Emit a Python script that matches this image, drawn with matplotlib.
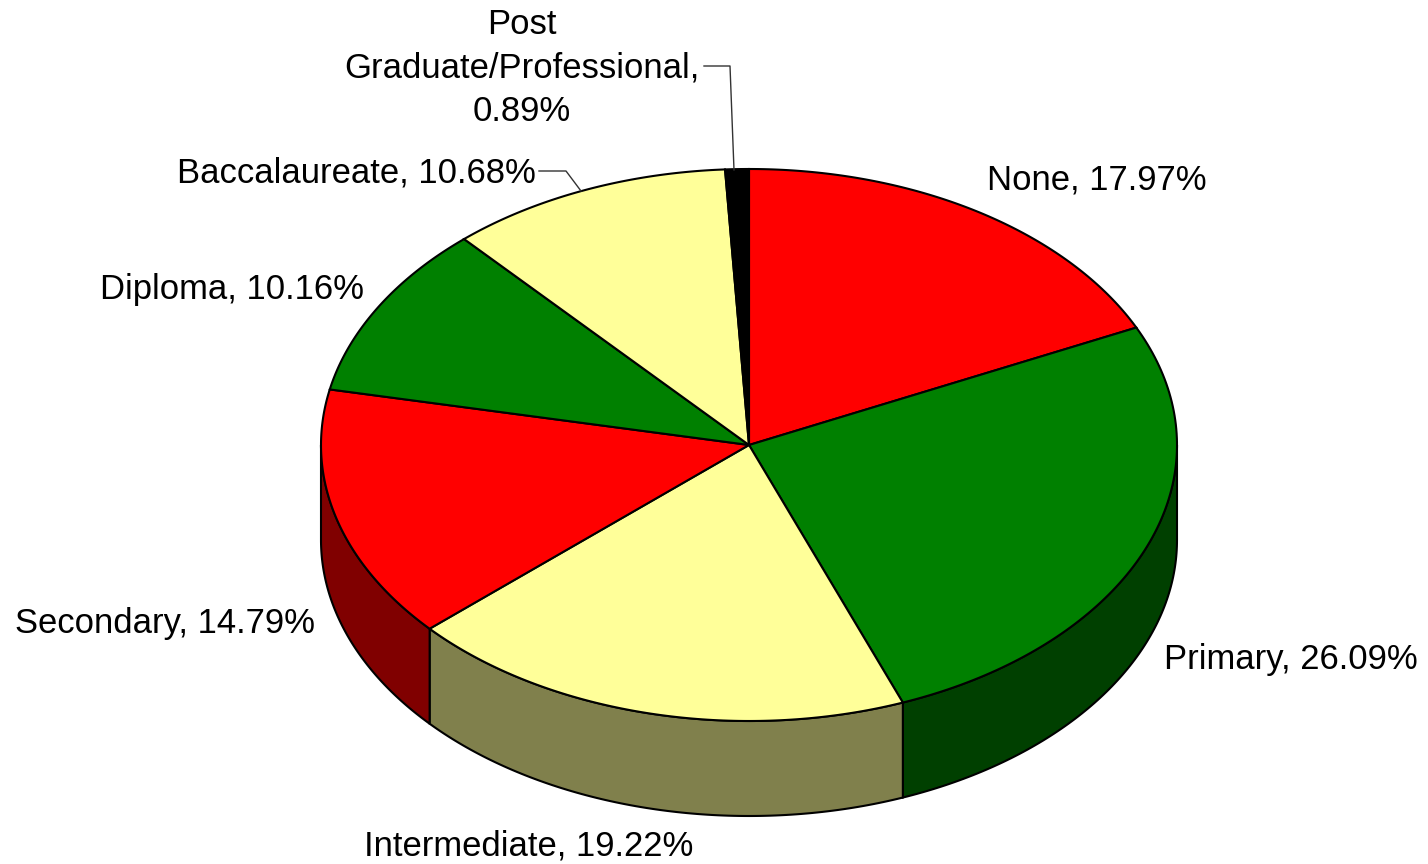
import numpy as np
import matplotlib
matplotlib.use('Agg')
import matplotlib.pyplot as plt
from matplotlib.patches import Polygon

plt.rcParams['font.family'] = ['Liberation Sans', 'DejaVu Sans']

categories = ['None', 'Primary', 'Intermediate', 'Secondary', 'Diploma',
              'Baccalaureate', 'Post\nGraduate/Professional,\n']
values = [17.97, 26.09, 19.22, 14.79, 10.16, 10.68, 0.89]
top_colors = ['#FF0000', '#008000', '#FFFF99', '#FF0000', '#008000', '#FFFF99', '#000000']
side_colors = ['#800000', '#004000', '#80804C', '#800000', '#004000', '#80804C', '#000000']

# label centre positions in pixels
label_pos = [(1097, 180), (1291, 659), (529, 846), (165, 624), (232, 290), (356, 173), (522, 68)]

cx, cy = 749, 445
rx, ry = 428, 276
depth = 95


def ellipse(t):
    return cx + rx * np.sin(t), cy - ry * np.cos(t)


fig = plt.figure(figsize=(14.28, 8.64), dpi=100)
ax = fig.add_axes([0, 0, 1, 1])
ax.set_xlim(0, 1428)
ax.set_ylim(864, 0)
ax.axis('off')

edges = np.radians(np.concatenate([[0], np.cumsum(values)]) / sum(values) * 360)

# side wall, only the front half of the pie shows
for i in range(len(values)):
    a = max(edges[i], np.pi / 2)
    b = min(edges[i + 1], 3 * np.pi / 2)
    if a >= b:
        continue
    t = np.linspace(a, b, 100)
    x, y = ellipse(t)
    pts = np.column_stack([np.r_[x, x[::-1]], np.r_[y, y[::-1] + depth]])
    ax.add_patch(Polygon(pts, closed=True, fc=side_colors[i], ec='black', lw=1.5))

# top face
for i in range(len(values)):
    t = np.linspace(edges[i], edges[i + 1], 100)
    x, y = ellipse(t)
    pts = np.column_stack([np.r_[cx, x], np.r_[cy, y]])
    ax.add_patch(Polygon(pts, closed=True, fc=top_colors[i], ec='black', lw=1.5))

# labels
for i, name in enumerate(categories):
    if '\n' in name:
        txt = f'{name}{values[i]:.2f}%'
    else:
        txt = f'{name}, {values[i]:.2f}%'
    ax.text(label_pos[i][0], label_pos[i][1], txt, fontsize=24.9, ha='center', va='center',
            color='black', linespacing=1.42)

# leader lines
ax.plot([539, 566, 581], [171, 171, 191], color='#333333', lw=1)
ax.plot([704, 730, 734], [66, 66, 170], color='#333333', lw=1)

fig.savefig('out.png', dpi=100)
